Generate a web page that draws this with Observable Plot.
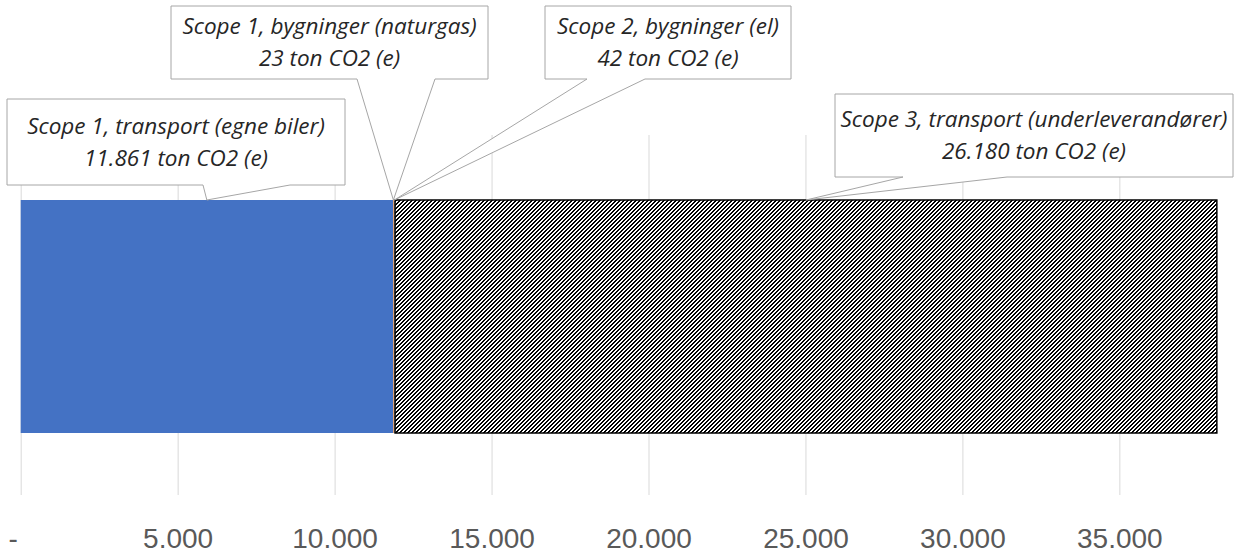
<!DOCTYPE html>
<html><head><meta charset="utf-8">
<script src="https://cdn.jsdelivr.net/npm/d3@7"></script>
<script src="https://cdn.jsdelivr.net/npm/@observablehq/plot@0.6"></script>
<style>
body{margin:0;background:#fff;}
#chart{position:relative;width:1251px;height:556px;overflow:hidden;}
</style></head><body><div id="chart"></div>
<script>
// ---- data ----
const categories = ["Scope 1, transport (egne biler)", "Scope 1, bygninger (naturgas)", "Scope 2, bygninger (el)", "Scope 3, transport (underleverandører)"];
const values = [11861, 23, 42, 26180];
const valueLabels = ["11.861 ton CO2 (e)", "23 ton CO2 (e)", "42 ton CO2 (e)", "26.180 ton CO2 (e)"];
const xTicks = [0, 5000, 10000, 15000, 20000, 25000, 30000, 35000];
const xTickLabels = ["-", "5.000", "10.000", "15.000", "20.000", "25.000", "30.000", "35.000"];
const xMax = 40000;

// ---- styles / layout ----
const fills = ["#4472C4", "#ED7D31", "#A5A5A5", "url(#hatch)"];
const hatched = [false, false, false, true];
const calloutLayout = [
  {left: 7,   top: 99, width: 338, height: 86, baseL: 203, baseR: 290},
  {left: 171, top: 6,  width: 317, height: 73, baseL: 357, baseR: 435},
  {left: 545, top: 6,  width: 246, height: 73, baseL: 587, baseR: 645},
  {left: 835, top: 94, width: 398, height: 83, baseL: 903, baseR: 1007}
];

const ends = d3.cumsum(values);
const rows = categories.map((c, i) => ({
  cat: c, value: values[i], x1: ends[i] - values[i], x2: ends[i],
  mid: ends[i] - values[i] / 2, fill: fills[i], hatched: hatched[i], label: valueLabels[i]
}));

const x0 = 20.7, perUnit = 0.03139;
const plot = Plot.plot({
  width: 1251,
  height: 556,
  marginLeft: 20,
  marginRight: 0,
  marginTop: 135,
  marginBottom: 61,
  style: {fontFamily: "'Liberation Sans', sans-serif", fontSize: "28px", color: "#595959", background: "#fff"},
  x: {domain: [0, xMax], range: [x0, x0 + xMax * perUnit], axis: null},
  y: {domain: ["total"], range: [200, 433], padding: 0, axis: null},
  marks: [
    Plot.gridX(xTicks, {stroke: "#d9d9d9", strokeOpacity: 1, strokeWidth: 1}),
    Plot.barX(rows, {x1: "x1", x2: "x2", y: () => "total", fill: "fill", inset: 0}),
    Plot.barX(rows.filter(d => d.hatched), {x1: "x1", x2: "x2", y: () => "total", fill: "none", stroke: "#000", strokeWidth: 1.5, inset: 0}),
    Plot.axisX({ticks: xTicks, tickFormat: d => xTickLabels[xTicks.indexOf(d)], tickSize: 0, tickPadding: 33, fill: "#595959"})
  ]
});
document.getElementById("chart").appendChild(plot);

const svg = d3.select(plot);
// hatch pattern: crisp 4px diagonal stripes
const defs = svg.insert("defs", ":first-child");
const pat = defs.append("pattern").attr("id", "hatch").attr("patternUnits", "userSpaceOnUse")
  .attr("width", 4).attr("height", 4);
pat.append("rect").attr("width", 4).attr("height", 4).attr("fill", "#fff");
for (let r = 0; r < 4; r++) {
  for (let k = 0; k < 2; k++) {
    const c = ((3 - r) + k) % 4;
    pat.append("rect").attr("x", c).attr("y", r).attr("width", 1).attr("height", 1)
      .attr("fill", "#000").attr("shape-rendering", "crispEdges");
  }
}

// shift the "-" zero label left like the original
svg.selectAll("text").filter(function() { return this.textContent === "-"; })
  .attr("dx", -8);

// callouts
const xs = plot.scale("x"), ys = plot.scale("y");
const g = svg.append("g").attr("class", "callouts");
rows.forEach((d, i) => {
  const L = calloutLayout[i];
  const ax = xs.apply(d.mid), ay = ys.apply("total");
  const r = L.left + L.width, b = L.top + L.height;
  const path = `M${L.left},${L.top}H${r}V${b}H${L.baseR}L${ax},${ay}L${L.baseL},${b}H${L.left}Z`;
  g.append("path").attr("d", path).attr("fill", "#fff").attr("stroke", "#a6a6a6").attr("stroke-width", 1);
  const cx = L.left + L.width / 2, cy = L.top + L.height / 2;
  const t = g.append("text").attr("text-anchor", "middle").attr("font-family", "'Open Sans', sans-serif")
    .attr("font-style", "italic").attr("font-size", 22.5).attr("fill", "#262626");
  t.append("tspan").attr("x", cx).attr("y", cy - 16).attr("dy", "0.35em").text(d.cat);
  t.append("tspan").attr("x", cx).attr("y", cy + 16).attr("dy", "0.35em").text(d.label);
});
</script>
</body></html>
